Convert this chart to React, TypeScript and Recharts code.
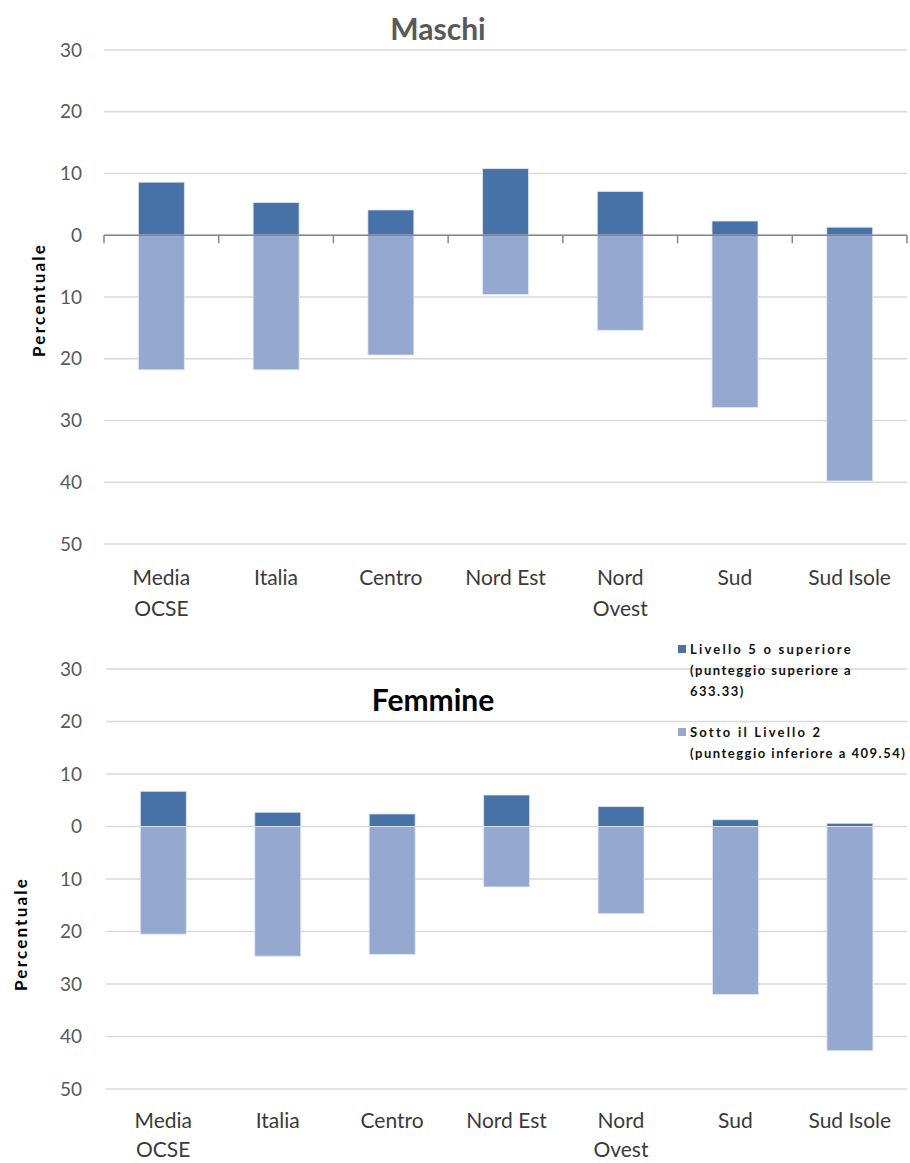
import React from "react";
import {
  BarChart,
  Bar,
  XAxis,
  YAxis,
  CartesianGrid,
  ReferenceLine,
  Legend,
} from "recharts";

// categorie (a capo dove il grafico originale va a capo)
const categories = ["Media\nOCSE", "Italia", "Centro", "Nord Est", "Nord\nOvest", "Sud", "Sud Isole"];

// percentuali
const maschiLivello5 = [8.6, 5.3, 4.1, 10.8, 7.1, 2.3, 1.3];
const maschiSotto2 = [21.8, 21.8, 19.4, 9.6, 15.4, 27.9, 39.8];
const femmineLivello5 = [6.7, 2.7, 2.4, 6.0, 3.8, 1.3, 0.6];
const femmineSotto2 = [20.5, 24.7, 24.4, 11.5, 16.6, 32.0, 42.7];

const yTicks = [-50, -40, -30, -20, -10, 0, 10, 20, 30];

const seriesNames = ["Livello 5 o superiore", "Sotto il Livello 2"];
const legendLines = [
  ["Livello 5 o superiore", "(punteggio superiore a", "633.33)"],
  ["Sotto il Livello 2", "(punteggio inferiore a 409.54)"],
];

const darkBlue = "#4672a8";
const lightBlue = "#95a9d0";
const gridColor = "#d9d9d9";

function buildRows(livello5: number[], sotto2: number[]) {
  return categories.map((cat, i) => ({
    cat,
    livello5: livello5[i],
    sotto2: -sotto2[i],
  }));
}

const CategoryTick = (props: any) => {
  const { x, y, payload, first = 33, lineGap = 31 } = props;
  const lines = String(payload.value).split("\n");
  return (
    <text x={x} y={y + first} textAnchor="middle" fill="#3a3a3a" fontSize={21}>
      {lines.map((l, i) => (
        <tspan key={i} x={x} dy={i === 0 ? 0 : lineGap}>
          {l}
        </tspan>
      ))}
    </text>
  );
};

const axisLabel = (dx: number, dy: number) => (props: any) => {
  const vb = props.viewBox;
  const cx = vb.x + dx;
  const cy = vb.y + vb.height / 2 + dy;
  return (
    <text
      x={cx}
      y={cy}
      transform={`rotate(-90 ${cx} ${cy})`}
      textAnchor="middle"
      dominantBaseline="central"
      fontSize={17}
      fontWeight={700}
      letterSpacing={2.2}
      fill="#000"
    >
      Percentuale
    </text>
  );
};

// linea dello zero con le tacche tra le categorie
const ZeroAxis = (props: any) => {
  const { x1, y1, x2 } = props;
  const step = (x2 - x1) / categories.length;
  const ticks = categories.map((_, i) => x1 + i * step).concat([x2]);
  return (
    <g>
      <line x1={x1} y1={y1} x2={x2} y2={y1} stroke="#868686" strokeWidth={1.5} />
      {ticks.map((tx, i) => (
        <line key={i} x1={tx} y1={y1} x2={tx} y2={y1 + 8} stroke="#868686" strokeWidth={1.5} />
      ))}
    </g>
  );
};

const LegendBox = (props: any) => {
  const { payload } = props;
  return (
    <div style={{ fontSize: 13, fontWeight: 700, color: "#111", lineHeight: "21px" }}>
      {(payload || []).map((entry: any, i: number) => (
        <div key={i} style={{ position: "relative", paddingLeft: 14, marginBottom: 20 }}>
          <span
            style={{
              position: "absolute",
              left: 2,
              top: 6,
              width: 8,
              height: 8,
              background: entry.color,
            }}
          />
          {legendLines[seriesNames.indexOf(entry.value)].map((l, j) => (
            <div key={j} style={{ letterSpacing: j === 0 ? 2.2 : 1.5 }}>{l}</div>
          ))}
        </div>
      ))}
    </div>
  );
};

export default function App() {
  const maschi = buildRows(maschiLivello5, maschiSotto2);
  const femmine = buildRows(femmineLivello5, femmineSotto2);

  return (
    <div
      style={{
        position: "absolute",
        left: 0,
        top: 0,
        width: 910,
        height: 1163,
        background: "#fff",
        fontFamily: "Lato, 'Open Sans', sans-serif",
      }}
    >
      <div
        style={{
          position: "absolute",
          left: 383,
          top: 10,
          width: 110,
          textAlign: "center",
          fontSize: 30,
          fontWeight: 700,
          color: "#595959",
          zIndex: 2,
        }}
      >
        Maschi
      </div>
      <div style={{ position: "absolute", left: 0, top: 0 }}>
        <BarChart
          width={910}
          height={640}
          data={maschi}
          stackOffset="sign"
          barCategoryGap="30%"
          margin={{ top: 50, right: 3, bottom: 16, left: 0 }}
        >
          <CartesianGrid vertical={false} stroke={gridColor} strokeWidth={1.5} />
          <XAxis dataKey="cat" axisLine={false} tickLine={false} height={80} interval={0} tick={<CategoryTick />} />
          <YAxis
            width={104}
            domain={[-50, 30]}
            ticks={yTicks}
            axisLine={false}
            tickLine={false}
            tickMargin={16}
            tickFormatter={(v: number) => String(Math.abs(v))}
            tick={{ fill: "#595959", fontSize: 19 }}
            label={{ content: axisLabel(38, 3) }}
          />
          <ReferenceLine y={0} shape={ZeroAxis} />
          <Bar dataKey="livello5" name={seriesNames[0]} stackId="s" fill={darkBlue} stroke="#e4e9f2" strokeWidth={0.8} isAnimationActive={false} />
          <Bar dataKey="sotto2" name={seriesNames[1]} stackId="s" fill={lightBlue} stroke="#e4e9f2" strokeWidth={0.8} isAnimationActive={false} />
        </BarChart>
      </div>

      <div style={{ position: "absolute", left: 0, top: 620 }}>
        <BarChart
          width={910}
          height={543}
          data={femmine}
          stackOffset="sign"
          barCategoryGap="30%"
          margin={{ top: 49, right: 3, bottom: 4, left: 0 }}
        >
          <CartesianGrid vertical={false} stroke={gridColor} strokeWidth={1.5} />
          <XAxis
            dataKey="cat"
            axisLine={false}
            tickLine={false}
            height={70}
            interval={0}
            tick={<CategoryTick first={31} lineGap={29} />}
          />
          <YAxis
            width={106}
            domain={[-50, 30]}
            ticks={yTicks}
            axisLine={false}
            tickLine={false}
            tickMargin={18}
            tickFormatter={(v: number) => String(Math.abs(v))}
            tick={{ fill: "#595959", fontSize: 19 }}
            label={{ content: axisLabel(20, 55) }}
          />
          <Legend
            layout="vertical"
            align="center"
            verticalAlign="middle"
            content={<LegendBox />}
            wrapperStyle={{ position: "absolute", left: 676, top: 19, width: 234 }}
          />
          <Bar dataKey="livello5" name={seriesNames[0]} stackId="s" fill={darkBlue} stroke="#e4e9f2" strokeWidth={0.8} isAnimationActive={false} />
          <Bar dataKey="sotto2" name={seriesNames[1]} stackId="s" fill={lightBlue} stroke="#e4e9f2" strokeWidth={0.8} isAnimationActive={false} />
        </BarChart>
      </div>
      <div
        style={{
          position: "absolute",
          left: 358,
          top: 681,
          width: 150,
          textAlign: "center",
          fontSize: 30,
          fontWeight: 700,
          color: "#000",
          zIndex: 2,
        }}
      >
        Femmine
      </div>
    </div>
  );
}
